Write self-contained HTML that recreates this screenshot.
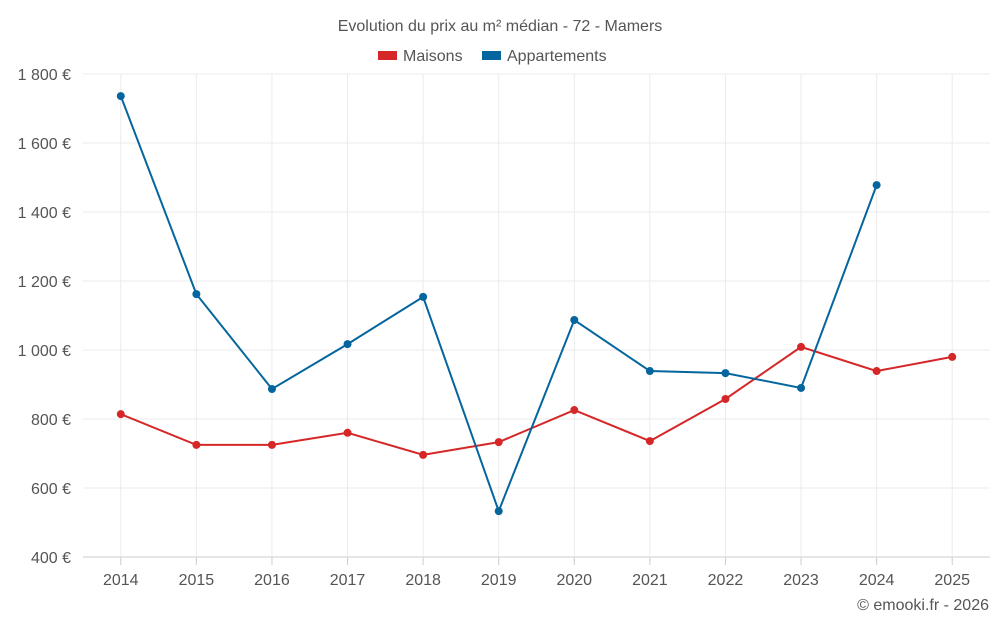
<!DOCTYPE html>
<html><head><meta charset="utf-8"><style>
body{margin:0;background:#fff;font-family:"Liberation Sans",sans-serif;}
svg text{font-family:"Liberation Sans",sans-serif;fill:#555;}
</style></head><body>
<svg id="chart" width="1000" height="625" xmlns="http://www.w3.org/2000/svg">
<text x="500" y="31" text-anchor="middle" font-size="16">Evolution du prix au m² médian - 72 - Mamers</text>
<g>
<g><rect x="378" y="51" width="19" height="9" fill="#d62728"/><text x="403" y="61" font-size="16">Maisons</text></g>
<g><rect x="482" y="51" width="19" height="9" fill="#05659f"/><text x="507" y="61" font-size="16">Appartements</text></g>
</g>
<g id="grid"></g><g id="axes"></g><g id="series"></g>
<text x="989" y="610" text-anchor="end" font-size="16">© emooki.fr - 2026</text>
</svg>
<script>
const years=["2014","2015","2016","2017","2018","2019","2020","2021","2022","2023","2024","2025"];
const maisons=[814,725,725,760,696,733,826,736,858,1009,939,980];
const appartements=[1736,1162,887,1017,1154,533,1087,939,933,890,1478,null];
const yTicks=[400,600,800,1000,1200,1400,1600,1800];
const yTickLabels=["400 €","600 €","800 €","1 000 €","1 200 €","1 400 €","1 600 €","1 800 €"];
const L=83,R=990,T=74,B=557,ymin=400,ymax=1800;
const bw=(R-L)/years.length;
const x=i=>L+bw*(i+0.5);
const y=v=>B-(v-ymin)/(ymax-ymin)*(B-T);
const NS="http://www.w3.org/2000/svg";
function mk(t,a,p){const e=document.createElementNS(NS,t);for(const k in a)e.setAttribute(k,a[k]);p.appendChild(e);return e;}
const g=document.getElementById('grid'),ax=document.getElementById('axes'),s=document.getElementById('series');
yTicks.forEach((v,i)=>{
 const l=mk('line',{x1:L,x2:R,y1:y(v),y2:y(v),stroke:i==0?'#ccc':'#ebebeb'},g);
 
 
 const t=mk('text',{x:L-12,y:y(v)+6,'text-anchor':'end','font-size':16},ax);t.textContent=yTickLabels[i];
 
 
});
years.forEach((yr,i)=>{
 const l=mk('line',{x1:x(i),x2:x(i),y1:T,y2:B,stroke:'#ebebeb'},g);
 
 
 const tk=mk('line',{x1:x(i),x2:x(i),y1:B,y2:B+8,stroke:'#ccc'},ax);
 
 
 const t=mk('text',{x:x(i),y:B+28,'text-anchor':'middle','font-size':16},ax);t.textContent=yr;
 
 
});
function draw(vals,color,name){
 let d='';vals.forEach((v,i)=>{if(v!=null)d+=(d?'L':'M')+x(i)+','+y(v);});
 const p=mk('path',{d:d,fill:'none',stroke:color,'stroke-width':2},s);
 
 
 vals.forEach((v,i)=>{if(v==null)return;
  const c=mk('circle',{cx:x(i),cy:y(v),r:4,fill:color},s);
  
  
 });
}
draw(maisons,'#d62728','maisons');
draw(appartements,'#05659f','appartements');
</script>
</body></html>
